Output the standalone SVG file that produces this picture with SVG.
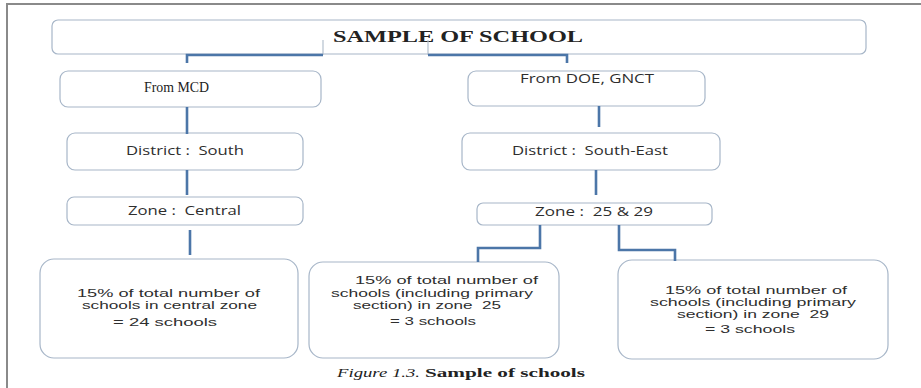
<svg xmlns="http://www.w3.org/2000/svg" width="921" height="388" viewBox="0 0 921 388">
<style>
text{white-space:pre}
.box{fill:#fff;stroke:#a7b6c8;stroke-width:1.2}
.conn{fill:none;stroke:#4c76a8;stroke-width:2.6}
.thin{fill:none;stroke:#b4c0ce;stroke-width:1.2}
.s{font-family:"Open Sans","DejaVu Sans",sans-serif;font-size:12.5px;fill:#2e2e2e}
.b{font-family:"Liberation Sans",Arial,sans-serif;font-size:10.8px;fill:#2e2e2e}
.serif{font-family:"Liberation Serif","Times New Roman",serif;fill:#222}
</style>
<rect width="921" height="388" fill="#fff"/>
<path d="M7,388 V4 H921" fill="none" stroke="#8a8a8a" stroke-width="2"/>

<g id="title">
<rect class="box" x="52" y="20" width="814" height="34" rx="6"/>
<text class="serif" x="333" y="42" font-size="16" font-weight="bold" textLength="250" lengthAdjust="spacingAndGlyphs">SAMPLE OF SCHOOL</text>
</g>
<g id="mcd">
<rect class="box" x="60" y="71" width="261" height="36" rx="8"/>
<text class="serif" x="144" y="92" font-size="14" textLength="65" lengthAdjust="spacingAndGlyphs">From MCD</text>
</g>
<g id="doe">
<rect class="box" x="468" y="71" width="237" height="35" rx="8"/>
<text class="s" x="520" y="83" textLength="134" lengthAdjust="spacingAndGlyphs">From DOE, GNCT</text>
</g>
<g id="district-south">
<rect class="box" x="67" y="133" width="236" height="37" rx="8"/>
<text class="s" x="126" y="155" textLength="118" lengthAdjust="spacingAndGlyphs">District :  South</text>
</g>
<g id="district-southeast">
<rect class="box" x="462" y="133" width="258" height="37" rx="8"/>
<text class="s" x="512" y="155" textLength="156" lengthAdjust="spacingAndGlyphs">District :  South-East</text>
</g>
<g id="zone-central">
<rect class="box" x="67" y="197" width="236" height="28" rx="7"/>
<text class="s" x="128" y="215" textLength="113" lengthAdjust="spacingAndGlyphs">Zone :  Central</text>
</g>
<g id="zone-2529">
<rect class="box" x="477" y="203" width="235" height="22" rx="6"/>
<text class="s" x="535" y="216" textLength="118" lengthAdjust="spacingAndGlyphs">Zone :  25 &amp; 29</text>
</g>
<g id="result-central">
<rect class="box" x="40" y="259" width="258" height="99" rx="14"/>
<text class="b" x="77" y="297" textLength="183" lengthAdjust="spacingAndGlyphs">15% of total number of</text>
<text class="b" x="82" y="309" textLength="175" lengthAdjust="spacingAndGlyphs">schools in central zone</text>
<text class="b" x="113" y="326" textLength="104" lengthAdjust="spacingAndGlyphs">= 24 schools</text>
</g>
<g id="result-25">
<rect class="box" x="309" y="262" width="250" height="96" rx="14"/>
<text class="b" x="355" y="284" textLength="183" lengthAdjust="spacingAndGlyphs">15% of total number of</text>
<text class="b" x="331" y="297" textLength="202" lengthAdjust="spacingAndGlyphs">schools (including primary</text>
<text class="b" x="353" y="309" textLength="148" lengthAdjust="spacingAndGlyphs">section) in zone  25</text>
<text class="b" x="390" y="325" textLength="86" lengthAdjust="spacingAndGlyphs">= 3 schools</text>
</g>
<g id="result-29">
<rect class="box" x="618" y="260" width="270" height="99" rx="14"/>
<text class="b" x="665" y="294" textLength="182" lengthAdjust="spacingAndGlyphs">15% of total number of</text>
<text class="b" x="650" y="306" textLength="206" lengthAdjust="spacingAndGlyphs">schools (including primary</text>
<text class="b" x="677" y="318" textLength="152" lengthAdjust="spacingAndGlyphs">section) in zone  29</text>
<text class="b" x="705" y="333" textLength="90" lengthAdjust="spacingAndGlyphs">= 3 schools</text>
</g>

<g id="connectors">
<path class="thin" d="M323,40 V55 M428,40 V55"/>
<path class="conn" d="M323,55 H187 V63"/>
<path class="conn" d="M428,55 H567 V63"/>
<path class="conn" d="M187,107 V134"/>
<path class="conn" d="M187,170 V195"/>
<path class="conn" d="M190,230 V255"/>
<path class="conn" d="M599,106 V127"/>
<path class="conn" d="M596,170 V195"/>
<path class="conn" d="M540,225 V248 H478 V262"/>
<path class="conn" d="M619,225 V250 H675 V261"/>
</g>

<g id="caption">
<text class="serif" x="337" y="377" font-size="13" font-style="italic" textLength="83" lengthAdjust="spacingAndGlyphs">Figure 1.3.</text>
<text class="serif" x="425" y="377" font-size="13" font-weight="bold" textLength="160" lengthAdjust="spacingAndGlyphs">Sample of schools</text>
</g>
</svg>
